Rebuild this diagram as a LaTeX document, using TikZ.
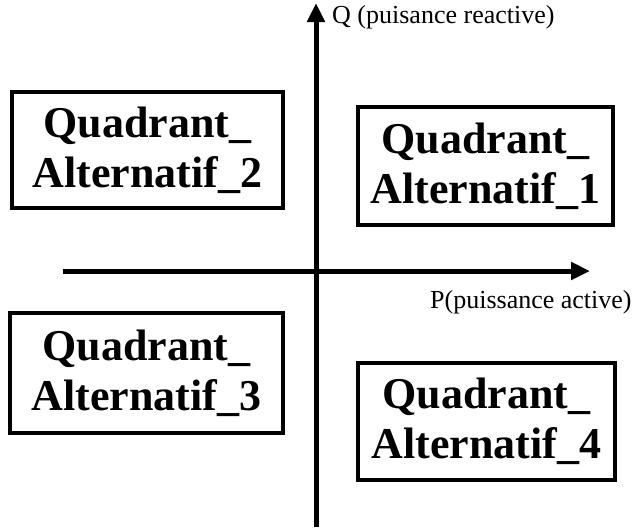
\documentclass[tikz,border=0pt]{standalone}
\usepackage{fontspec}
\setmainfont{Liberation Serif}
\usepackage{tikz}
\usetikzlibrary{arrows.meta,positioning}

\begin{document}
\begin{tikzpicture}[
    x=1pt, y=-1pt,
    quadbox/.style={rectangle, draw=black, line width=4pt, inner sep=0pt, outer sep=0pt, align=center, font=\bfseries\fontsize{44}{50}\selectfont},
    axislbl/.style={font=\fontsize{26}{30}\selectfont, inner sep=0pt},
    axis/.style={-{Triangle[length=19pt,width=17pt]}, line width=5pt}
]
\useasboundingbox (0,0) rectangle (637,531);

% Axes end points
\coordinate (pleft) at (63,271);
\coordinate (pright) at (590,271);
\coordinate (qbot) at (316,527);
\coordinate (qtop) at (316,3);

% Axes
\draw[axis] (pleft) -- (pright);
\draw[axis] (qbot) -- (qtop);

% Axis labels
\node[axislbl, anchor=west] (qlabel) at (332,17) {Q (puisance reactive)};
\node[axislbl, anchor=west] (plabel) at (430,302) {P(puissance active)};

% Quadrants
\node[quadbox, minimum width=271pt, minimum height=116pt] (quad2) at (147.5,150) {Quadrant\_\\Alternatif\_2};
\node[quadbox, minimum width=255pt, minimum height=118pt] (quad1) at (485.5,166) {Quadrant\_\\Alternatif\_1};
\node[quadbox, minimum width=273pt, minimum height=120pt] (quad3) at (146.5,373) {Quadrant\_\\Alternatif\_3};
\node[quadbox, minimum width=257pt, minimum height=117pt] (quad4) at (486.5,421.5) {Quadrant\_\\Alternatif\_4};

\end{tikzpicture}
\end{document}
